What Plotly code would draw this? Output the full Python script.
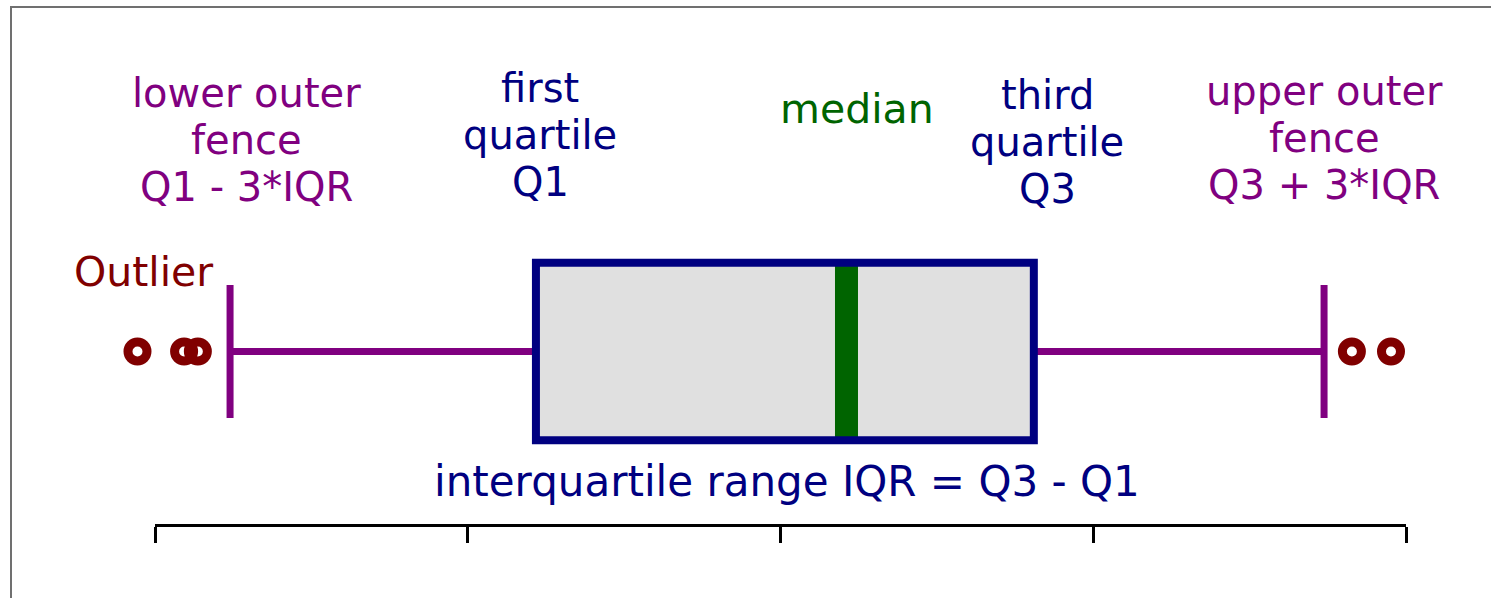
import plotly.graph_objects as go

W, H = 1491, 598

# box plot statistics (axis units, ticks every 10)
Q1 = 12.18
MEDIAN = 22.11
Q3 = 28.1
LOWER_FENCE = 2.4
UPPER_FENCE = 37.38
OUTLIERS_LOW = [-0.56, 0.93, 1.37]
OUTLIERS_HIGH = [38.27, 39.52]
TICKS = [0, 10, 20, 30, 40]

LOWER_LABEL = ["lower outer", "fence", "Q1 - 3*IQR"]
Q1_LABEL = ["first", "quartile", "Q1"]
MEDIAN_LABEL = ["median"]
Q3_LABEL = ["third", "quartile", "Q3"]
UPPER_LABEL = ["upper outer", "fence", "Q3 + 3*IQR"]
OUTLIER_LABEL = ["Outlier"]
IQR_LABEL = ["interquartile range IQR = Q3 - Q1"]

PURPLE = "#800080"
NAVY = "#000080"
GREEN = "#006400"
DARKRED = "#800000"
BOX_FILL = "#e0e0e0"
FONT = "DejaVu Sans"

# pixel layout: ruler from x=155 to x=1406 (0..40), box centred at y=351.5
X0_PX, UNIT_PX = 155, 31.275
YC_PX, YUNIT_PX = 351.5, 88.75


def px(x):
    return x / W


def py(y):
    return 1 - y / H


fig = go.Figure()

# whiskers + fence caps
fig.add_trace(go.Scatter(
    x=[LOWER_FENCE, Q1, None, LOWER_FENCE, LOWER_FENCE, None,
       Q3, UPPER_FENCE, None, UPPER_FENCE, UPPER_FENCE],
    y=[0, 0, None, -0.75, 0.75, None, 0, 0, None, -0.75, 0.75],
    mode="lines", line=dict(color=PURPLE, width=7),
    hoverinfo="skip", showlegend=False))

# outliers
fig.add_trace(go.Scatter(
    x=OUTLIERS_LOW + OUTLIERS_HIGH, y=[0] * (len(OUTLIERS_LOW) + len(OUTLIERS_HIGH)),
    mode="markers",
    marker=dict(symbol="circle-open", size=19, color=DARKRED,
                line=dict(color=DARKRED, width=9)),
    showlegend=False))

# empty trace so the ruler axis gets drawn
fig.add_trace(go.Scatter(x=[None], y=[None], xaxis="x2", yaxis="y",
                         showlegend=False, hoverinfo="skip"))

# box: fill, median band, outline
fig.add_shape(type="rect", xref="x", yref="y", x0=Q1, x1=Q3, y0=-1, y1=1,
              fillcolor=BOX_FILL, line_width=0)
fig.add_shape(type="line", xref="x", yref="y", x0=MEDIAN, x1=MEDIAN, y0=-1, y1=1,
              line=dict(color=GREEN, width=23))
fig.add_shape(type="rect", xref="x", yref="y", x0=Q1, x1=Q3, y0=-1, y1=1,
              line=dict(color=NAVY, width=8))

# frame (cut off at the right and bottom)
fig.add_shape(type="rect", xref="paper", yref="paper",
              x0=px(11), x1=px(W + 20), y0=py(H + 20), y1=py(7),
              line=dict(color="#707070", width=2))


def add_label(lines, cx, ys, color, size=40):
    for t, y in zip(lines, ys):
        fig.add_annotation(text=t, x=px(cx), y=py(y), xref="paper", yref="paper",
                           xanchor="center", yanchor="middle", showarrow=False,
                           borderpad=0, borderwidth=0,
                           font=dict(family=FONT, size=size, color=color))


add_label(LOWER_LABEL, 246, [93, 140, 187], PURPLE)
add_label(Q1_LABEL, 540, [88, 135, 182], NAVY)
add_label(MEDIAN_LABEL, 857, [109], GREEN, 41)
add_label(Q3_LABEL, 1047, [95, 142, 189], NAVY)
add_label(UPPER_LABEL, 1324, [91, 138, 185], PURPLE)
add_label(OUTLIER_LABEL, 143, [272], DARKRED, 41)
add_label(IQR_LABEL, 787, [481], NAVY, 42)

# data axis spans the full width, invisible
fig.update_layout(xaxis=dict(
    domain=[0, 1], range=[-X0_PX / UNIT_PX, (W - X0_PX) / UNIT_PX],
    visible=False, showgrid=False, zeroline=False))

# ruler axis
fig.update_layout(xaxis2=dict(
    domain=[px(155), px(1406)], range=[TICKS[0], TICKS[-1]],
    anchor="free", position=1 - 525 / H,
    tickmode="array", tickvals=TICKS, showticklabels=False,
    ticks="outside", ticklen=16, tickwidth=3, tickcolor="black",
    showline=True, linewidth=3, linecolor="black",
    showgrid=False, zeroline=False))

fig.update_yaxes(domain=[0, 1],
                 range=[(YC_PX - H) / YUNIT_PX, YC_PX / YUNIT_PX],
                 visible=False, showgrid=False, zeroline=False)

fig.update_layout(width=W, height=H, margin=dict(l=0, r=0, t=0, b=0, pad=0),
                  paper_bgcolor="white", plot_bgcolor="rgba(0,0,0,0)",
                  showlegend=False, font=dict(family=FONT))

fig.write_html("out.html", config={"displayModeBar": False},
               post_script="document.body.style.margin='0';")
